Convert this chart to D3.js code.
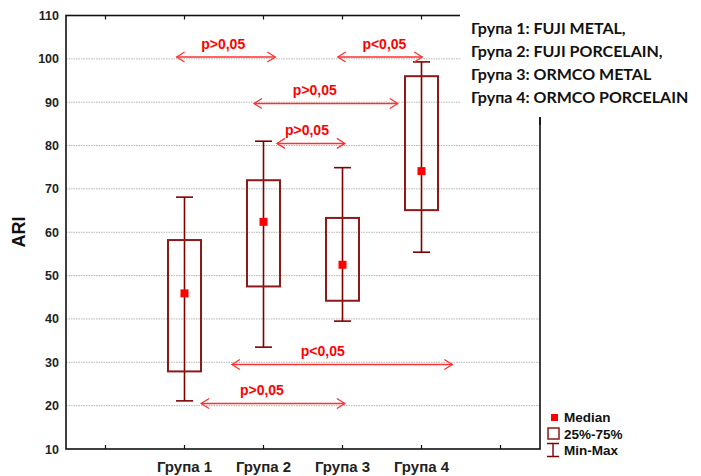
<!DOCTYPE html>
<html>
<head>
<meta charset="utf-8">
<script src="https://cdn.jsdelivr.net/npm/d3@7"></script>
<style>
  body { margin: 0; background: #fff; }
</style>
</head>
<body>
<script>
// box plot data
var categories = ["Група 1", "Група 2", "Група 3", "Група 4"];
var mins = [21.1, 33.5, 39.5, 55.4];
var q1 = [27.9, 47.5, 44.2, 65.1];
var medians = [45.9, 62.4, 52.5, 74.1];
var q3 = [58.2, 72.0, 63.3, 96.0];
var maxs = [68.1, 81.0, 74.9, 99.3];
var yTicks = [10, 20, 30, 40, 50, 60, 70, 80, 90, 100, 110];
var xTickSlots = [0.5, 1.5, 2.5, 3.5, 4.5, 5.5];

// comparison arrows (x in category slots, y in ARI)
var compFrom = [1.40, 3.44, 2.38, 2.67, 2.10, 1.71];
var compTo = [2.65, 4.51, 4.20, 3.53, 4.89, 3.53];
var compY = [100.4, 100.4, 89.7, 80.5, 29.5, 20.5];
var compLabel = ["p>0,05", "p<0,05", "p>0,05", "p>0,05", "p<0,05", "p>0,05"];
var compLabelX = [1.99, 4.03, 3.15, 3.05, 3.25, 2.48];

var groupNotes = [
    "Група 1: FUJI METAL,",
    "Група 2: FUJI PORCELAIN,",
    "Група 3: ORMCO METAL",
    "Група 4: ORMCO PORCELAIN"
];
var legendItems = ["Median", "25%-75%", "Min-Max"];

(function () {
    var W = 701, H = 476;
    var padL = 66, padR = 540, padT = 15.5, padB = 449;
    var dark = "#800000";
    var red = "#ff0000";
    var arrowRed = "#ff3030";

    var svg = d3.select("body")
        .append("svg")
        .attr("width", W)
        .attr("height", H)
        .style("font-family", "Arial, 'Liberation Sans', sans-serif");

    var x = d3.scaleLinear().domain([0, 6]).range([padL, padR]);
    var y = d3.scaleLinear().domain([10, 110]).range([padB, padT]);
    var slot = function (i) { return x(i + 1.5); };

    // grid
    svg.append("g")
        .selectAll("line")
        .data(yTicks.slice(1, -1))
        .join("line")
        .attr("x1", padL)
        .attr("x2", padR)
        .attr("y1", function (d) { return y(d); })
        .attr("y2", function (d) { return y(d); })
        .attr("stroke", "#b4b4b4")
        .attr("stroke-width", 1)
        .attr("stroke-dasharray", "1.5,1");

    // frame
    svg.append("rect")
        .attr("x", padL)
        .attr("y", padT)
        .attr("width", padR - padL)
        .attr("height", padB - padT)
        .attr("fill", "none")
        .attr("stroke", "#111")
        .attr("stroke-width", 1.6);

    // inward ticks on top and bottom
    xTickSlots.forEach(function (s) {
        svg.append("line")
            .attr("x1", x(s)).attr("x2", x(s))
            .attr("y1", padB).attr("y2", padB - 4)
            .attr("stroke", "#111").attr("stroke-width", 1.2);
        svg.append("line")
            .attr("x1", x(s)).attr("x2", x(s))
            .attr("y1", padT).attr("y2", padT + 4)
            .attr("stroke", "#111").attr("stroke-width", 1.2);
    });

    // y tick labels
    svg.append("g")
        .selectAll("text")
        .data(yTicks)
        .join("text")
        .attr("x", 59)
        .attr("y", function (d) { return y(d); })
        .attr("dy", "0.36em")
        .attr("text-anchor", "end")
        .attr("font-size", 12.5)
        .attr("font-weight", "bold")
        .attr("fill", "#222")
        .text(function (d) { return d; });

    // x labels
    svg.append("g")
        .selectAll("text")
        .data(categories)
        .join("text")
        .attr("x", function (d, i) { return slot(i); })
        .attr("y", 472)
        .attr("text-anchor", "middle")
        .attr("font-size", 15)
        .attr("font-weight", "bold")
        .attr("fill", "#222")
        .text(function (d) { return d; });

    // y title
    svg.append("text")
        .attr("transform", "translate(25,232) rotate(-90)")
        .attr("text-anchor", "middle")
        .attr("font-size", 18)
        .attr("font-weight", "bold")
        .attr("fill", "#111")
        .text("ARI");

    // whiskers, boxes, medians
    var boxW = 33, capW = 17, med = 8;
    categories.forEach(function (c, i) {
        var cx = slot(i);
        svg.append("line")
            .attr("x1", cx).attr("x2", cx)
            .attr("y1", y(maxs[i])).attr("y2", y(mins[i]))
            .attr("stroke", dark).attr("stroke-width", 1.6);
        svg.append("line")
            .attr("x1", cx - capW / 2).attr("x2", cx + capW / 2)
            .attr("y1", y(maxs[i])).attr("y2", y(maxs[i]))
            .attr("stroke", dark).attr("stroke-width", 1.6);
        svg.append("line")
            .attr("x1", cx - capW / 2).attr("x2", cx + capW / 2)
            .attr("y1", y(mins[i])).attr("y2", y(mins[i]))
            .attr("stroke", dark).attr("stroke-width", 1.6);
        svg.append("rect")
            .attr("x", cx - boxW / 2)
            .attr("y", y(q3[i]))
            .attr("width", boxW)
            .attr("height", y(q1[i]) - y(q3[i]))
            .attr("fill", "none")
            .attr("stroke", "#8b1a1a")
            .attr("stroke-width", 2);
        svg.append("rect")
            .attr("x", cx - med / 2)
            .attr("y", y(medians[i]) - med / 2)
            .attr("width", med)
            .attr("height", med)
            .attr("fill", red);
    });

    // comparison arrows
    compLabel.forEach(function (t, i) {
        var x1 = x(compFrom[i]), x2 = x(compTo[i]), yy = y(compY[i]);
        svg.append("line")
            .attr("x1", x1).attr("x2", x2)
            .attr("y1", yy).attr("y2", yy)
            .attr("stroke", arrowRed).attr("stroke-width", 1.5);
        svg.append("path")
            .attr("d", "M" + (x1 + 8) + "," + (yy - 5) + "L" + x1 + "," + yy + "L" + (x1 + 8) + "," + (yy + 5))
            .attr("fill", "none").attr("stroke", arrowRed).attr("stroke-width", 1.2);
        svg.append("path")
            .attr("d", "M" + (x2 - 8) + "," + (yy - 5) + "L" + x2 + "," + yy + "L" + (x2 - 8) + "," + (yy + 5))
            .attr("fill", "none").attr("stroke", arrowRed).attr("stroke-width", 1.2);
        svg.append("text")
            .attr("x", x(compLabelX[i]))
            .attr("y", yy - 8.5)
            .attr("text-anchor", "middle")
            .attr("font-size", 14)
            .attr("font-weight", "bold")
            .attr("fill", red)
            .text(t);
    });

    // group notes box, top right
    svg.append("rect")
        .attr("x", 460)
        .attr("y", 0)
        .attr("width", W - 460)
        .attr("height", 117)
        .attr("fill", "#fff");
    svg.append("line")
        .attr("x1", padR).attr("x2", padR)
        .attr("y1", 117).attr("y2", 125)
        .attr("stroke", "#111").attr("stroke-width", 1.6);
    svg.append("g")
        .selectAll("text")
        .data(groupNotes)
        .join("text")
        .attr("x", 471)
        .attr("y", function (d, i) { return 33.5 + i * 23; })
        .attr("font-family", "Lato, 'Open Sans', sans-serif")
        .attr("font-size", 16)
        .attr("font-weight", "bold")
        .attr("fill", "#111")
        .text(function (d) { return d; });

    // legend, bottom right
    var lg = svg.append("g");
    lg.append("rect")
        .attr("x", 551).attr("y", 414)
        .attr("width", 7).attr("height", 7)
        .attr("fill", red);
    lg.append("rect")
        .attr("x", 548).attr("y", 428)
        .attr("width", 11).attr("height", 11)
        .attr("fill", "none")
        .attr("stroke", "#8b1a1a").attr("stroke-width", 1.5);
    lg.append("path")
        .attr("d", "M547,443.5H559M553,443.5V456.5M547,456.5H559")
        .attr("fill", "none")
        .attr("stroke", dark).attr("stroke-width", 1.4);
    lg.selectAll("text")
        .data(legendItems)
        .join("text")
        .attr("x", 564)
        .attr("y", function (d, i) { return 422 + i * 16.5; })
        .attr("font-size", 13.5)
        .attr("font-weight", "bold")
        .attr("fill", "#111")
        .text(function (d) { return d; });
})();
</script>
</body>
</html>
